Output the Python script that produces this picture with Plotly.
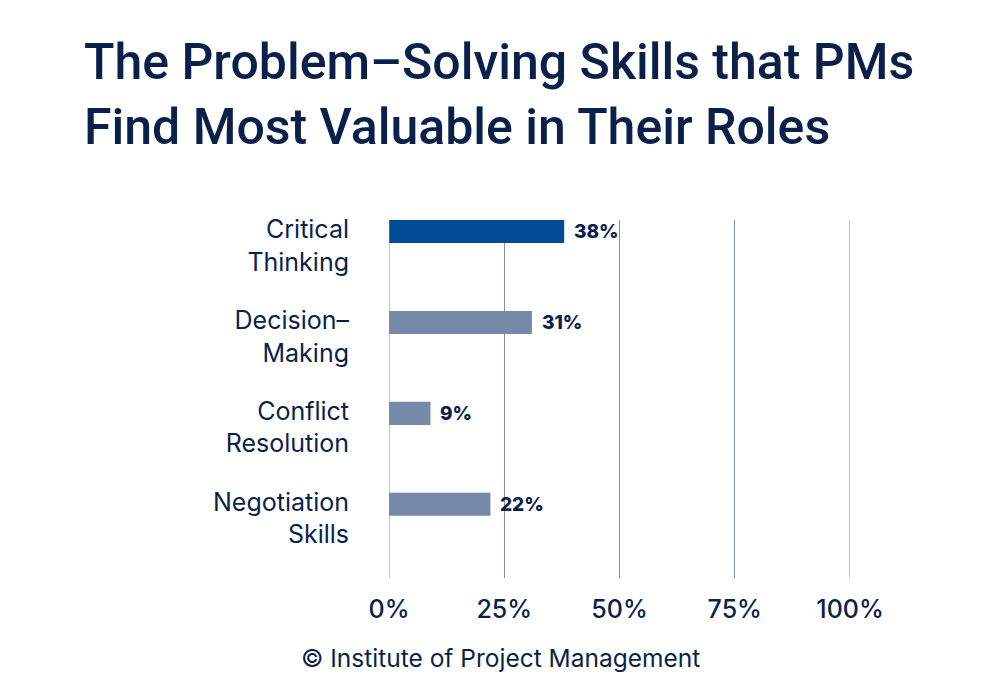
import plotly.graph_objects as go

categories = ["Critical<br>Thinking", "Decision–<br>Making", "Conflict<br>Resolution", "Negotiation<br>Skills"]
values = [38, 31, 9, 22]
value_labels = ["38%", "31%", "9%", "22%"]
x_ticks = [0, 25, 50, 75, 100]
x_tick_labels = ["0%", "25%", "50%", "75%", "100%"]
title_lines = ["The Problem–Solving Skills that PMs", "Find Most Valuable in Their Roles"]
footer = "© Institute of Project Management"

NAVY = "#0b1f4b"
GRID = "#7f8fae"
colors = ["#004b98"] + ["#7689a8"] * (len(values) - 1)
ypos = list(range(len(values)))
label_offset = 0.155

L, R, T, B = 381, 158, 212, 130
PW = 1000 - L - R

fig = go.Figure()
fig.add_trace(go.Bar(
    x=values, y=ypos, orientation="h", width=0.253,
    marker=dict(color=colors, line=dict(width=0)),
    hoverinfo="skip",
))

for i, (v, t) in enumerate(zip(values, value_labels)):
    fig.add_annotation(x=v, y=i, text=t, showarrow=False, xanchor="left", yanchor="middle",
                       xshift=8, font=dict(family="Inter", size=19, color=NAVY, weight=800))

fig.add_annotation(xref="paper", yref="paper", x=(74 - L) / PW, y=1, text="<br>".join(title_lines),
                   showarrow=False, xanchor="left", yanchor="bottom", align="left",
                   yshift=62,
                   font=dict(family="Roboto", size=50, color=NAVY, weight=500))

fig.add_annotation(xref="paper", yref="paper", x=(492 - L) / PW, y=0, yshift=-80,
                   text=footer, showarrow=False, xanchor="center", yanchor="middle",
                   font=dict(family="Inter", size=24.5, color=NAVY))

fig.update_layout(
    width=1000, height=700,
    margin=dict(l=L, r=R, t=T, b=B),
    paper_bgcolor="white", plot_bgcolor="white",
    showlegend=False,
    xaxis=dict(range=[0, 100], tickvals=x_ticks, ticktext=x_tick_labels,
               showgrid=True, gridcolor=GRID, gridwidth=1, zeroline=False,
               showline=False, ticks="outside", ticklen=9, tickcolor="rgba(0,0,0,0)",
               tickfont=dict(family="Inter", size=25, color=NAVY, weight=500)),
    yaxis=dict(range=[3.81, -0.126], tickvals=[p + label_offset for p in ypos], ticktext=categories,
               showgrid=False, zeroline=False, showline=False,
               ticks="outside", ticklen=34, tickcolor="rgba(0,0,0,0)",
               tickfont=dict(family="Inter", size=25, color=NAVY)),
)
fig.add_vline(x=x_ticks[0], line=dict(color=GRID, width=1))
fig.add_vline(x=x_ticks[-1], line=dict(color=GRID, width=1))

fig.write_html("out.html")
